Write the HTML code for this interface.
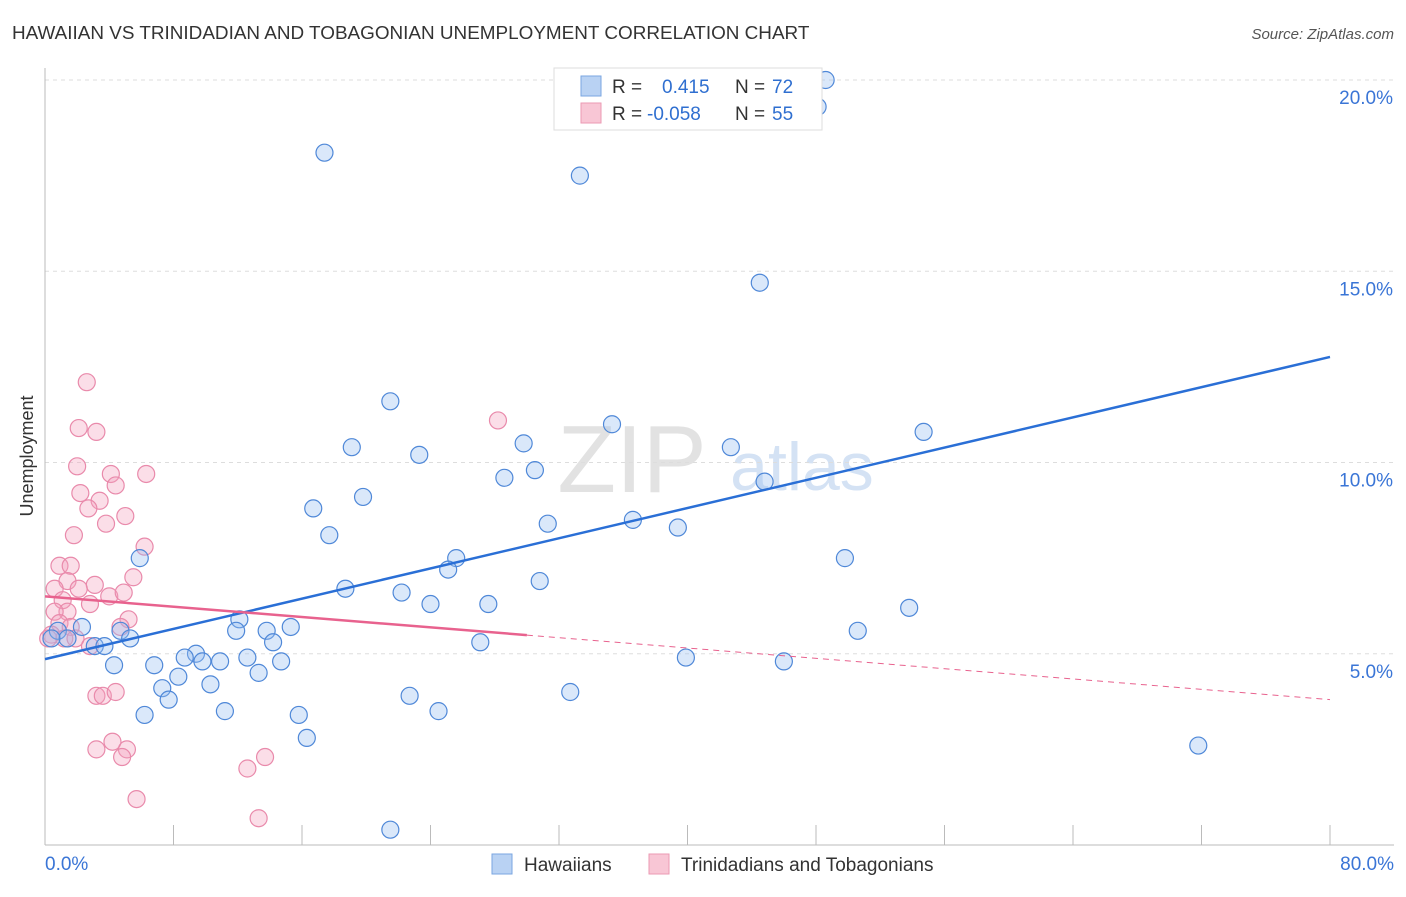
<!DOCTYPE html>
<html><head><meta charset="utf-8"><style>
body{margin:0;background:#fff;font-family:"Liberation Sans",sans-serif}
svg text{font-family:"Liberation Sans",sans-serif}
</style></head><body>
<svg id="chart" width="1406" height="892" xmlns="http://www.w3.org/2000/svg">
<text x="12" y="39" font-size="18.9" fill="#333">HAWAIIAN VS TRINIDADIAN AND TOBAGONIAN UNEMPLOYMENT CORRELATION CHART</text>
<text x="1394" y="39" font-size="15" fill="#555" text-anchor="end" font-style="italic">Source: ZipAtlas.com</text>
<text x="33" y="456" font-size="18" fill="#333" text-anchor="middle" transform="rotate(-90 33 456)">Unemployment</text>
<text x="632" y="492" font-size="96" fill="#e2e2e2" text-anchor="middle" font-family="Liberation Serif">ZIP</text>
<text x="802" y="490" font-size="68" fill="#d4e2f4" text-anchor="middle">atlas</text>
<g id="grid"></g><g id="axes"></g><g id="pts"></g><g id="trend"></g>
<g>
<rect x="554" y="68" width="268" height="62" fill="#fff" stroke="#ddd"/>
<rect x="581" y="76" width="20" height="20" fill="#b9d2f3" stroke="#7aa6e0"/>
<rect x="581" y="103" width="20" height="20" fill="#f8c6d5" stroke="#eb9ab3"/>
<text x="612" y="93" font-size="19" fill="#333">R =</text><text x="662" y="93" font-size="19" fill="#2f6fd0">0.415</text>
<text x="735" y="93" font-size="19" fill="#333">N =</text><text x="772" y="93" font-size="19" fill="#2f6fd0">72</text>
<text x="612" y="120" font-size="19" fill="#333">R =</text><text x="647" y="120" font-size="19" fill="#2f6fd0">-0.058</text>
<text x="735" y="120" font-size="19" fill="#333">N =</text><text x="772" y="120" font-size="19" fill="#2f6fd0">55</text>
</g>
<g>
<rect x="492" y="854" width="20" height="20" fill="#b9d2f3" stroke="#7aa6e0"/>
<text x="524" y="871" font-size="19" fill="#333">Hawaiians</text>
<rect x="649" y="854" width="20" height="20" fill="#f8c6d5" stroke="#eb9ab3"/>
<text x="681" y="871" font-size="19" fill="#333">Trinidadians and Tobagonians</text>
</g>
</svg>
<script>
const blueX=[48.6,48.1,17.4,33.3,44.5,21.5,35.3,19.1,29.8,23.3,42.7,54.7,28.6,30.5,44.8,19.8,16.7,17.7,31.3,36.6,39.4,5.9,49.8,25.6,25.1,30.8,18.7,22.2,24.0,27.6,53.8,12.1,15.3,11.9,13.8,50.6,2.3,4.7,5.3,0.8,1.4,3.1,3.7,14.2,27.1,9.4,8.7,12.6,9.8,10.9,14.7,6.8,4.3,39.9,46.0,8.3,13.3,7.3,10.3,7.7,32.7,22.7,24.5,11.2,6.2,15.8,16.3,71.8,21.5,0.4];
const blueY=[20.0,19.3,18.1,17.5,14.7,11.6,11.0,10.4,10.5,10.2,10.4,10.8,9.6,9.8,9.5,9.1,8.8,8.1,8.4,8.5,8.3,7.5,7.5,7.5,7.2,6.9,6.7,6.6,6.3,6.3,6.2,5.9,5.7,5.6,5.6,5.6,5.7,5.6,5.4,5.6,5.4,5.2,5.2,5.3,5.3,5.0,4.9,4.9,4.8,4.8,4.8,4.7,4.7,4.9,4.8,4.4,4.5,4.1,4.2,3.8,4.0,3.9,3.5,3.5,3.4,3.4,2.8,2.6,0.4,5.4];
const pinkX=[2.6,2.1,3.2,28.2,2.0,4.1,6.3,2.2,3.4,4.4,2.7,5.0,3.8,1.8,6.2,0.9,1.6,1.4,3.1,5.5,0.6,2.1,4.0,4.9,1.1,2.8,1.4,0.6,5.2,4.7,0.9,1.6,0.4,1.2,1.9,0.2,2.8,3.2,3.6,4.4,3.2,4.2,5.1,4.8,13.7,12.6,5.7,13.3];
const pinkY=[12.1,10.9,10.8,11.1,9.9,9.7,9.7,9.2,9.0,9.4,8.8,8.6,8.4,8.1,7.8,7.3,7.3,6.9,6.8,7.0,6.7,6.7,6.5,6.6,6.4,6.3,6.1,6.1,5.9,5.7,5.8,5.7,5.5,5.4,5.4,5.4,5.2,3.9,3.9,4.0,2.5,2.7,2.5,2.3,2.3,2.0,1.2,0.7];
const blueTrend=[4.86,12.76];
const pinkTrend=[6.5,3.8];
const yTicks=[5,10,15,20];
const xTickLabels=["0.0%","80.0%"];
const X=v=>45+v*1285/80, Y=v=>845-v*38.25;
const NS="http://www.w3.org/2000/svg";
function mk(p,t,a){const e=document.createElementNS(NS,t);for(const k in a)e.setAttribute(k,a[k]);p.appendChild(e);return e;}
const grid=document.getElementById('grid'),axes=document.getElementById('axes'),pts=document.getElementById('pts'),tr=document.getElementById('trend');
yTicks.forEach(v=>{
 const l=mk(grid,'line',{x1:45,x2:1394,y1:Y(v),y2:Y(v),stroke:'#ddd','stroke-dasharray':'4,4'});
 
 
 const t=mk(axes,'text',{x:1393,y:Y(v)+24,'font-size':19,fill:'#3a75d6','text-anchor':'end'});t.textContent=v.toFixed(1)+'%';
 
 
});
mk(axes,'line',{x1:45,x2:45,y1:68,y2:845,stroke:'#bbb'});
mk(axes,'line',{x1:45,x2:1394,y1:845,y2:845,stroke:'#bbb'});
for(let i=0;i<=10;i++){mk(axes,'line',{x1:X(i*8),x2:X(i*8),y1:825,y2:845,stroke:'#bbb'});}
const t0=mk(axes,'text',{x:45,y:870,'font-size':19,fill:'#3a75d6'});t0.textContent=xTickLabels[0];


const t1=mk(axes,'text',{x:1394,y:870,'font-size':19,fill:'#3a75d6','text-anchor':'end'});t1.textContent=xTickLabels[1];


pinkX.forEach((x,i)=>{const c=mk(pts,'circle',{cx:X(x),cy:Y(pinkY[i]),r:8.5,fill:'rgba(244,160,188,0.35)',stroke:'#e98aab','stroke-width':1.2});
 
 });
blueX.forEach((x,i)=>{const c=mk(pts,'circle',{cx:X(x),cy:Y(blueY[i]),r:8.5,fill:'rgba(150,190,240,0.35)',stroke:'#4f88d8','stroke-width':1.2});
 
 });
const bl=mk(tr,'line',{x1:X(0),y1:Y(blueTrend[0]),x2:X(80),y2:Y(blueTrend[1]),stroke:'#2a6fd6','stroke-width':2.5});


const pAt=x=>pinkTrend[0]+(pinkTrend[1]-pinkTrend[0])*x/80;
const ps=mk(tr,'line',{x1:X(0),y1:Y(pAt(0)),x2:X(30),y2:Y(pAt(30)),stroke:'#e8628e','stroke-width':2.5});


const pd=mk(tr,'line',{x1:X(30),y1:Y(pAt(30)),x2:X(80),y2:Y(pAt(80)),stroke:'#e8628e','stroke-width':1,'stroke-dasharray':'6,5'});


</script>
</body></html>
